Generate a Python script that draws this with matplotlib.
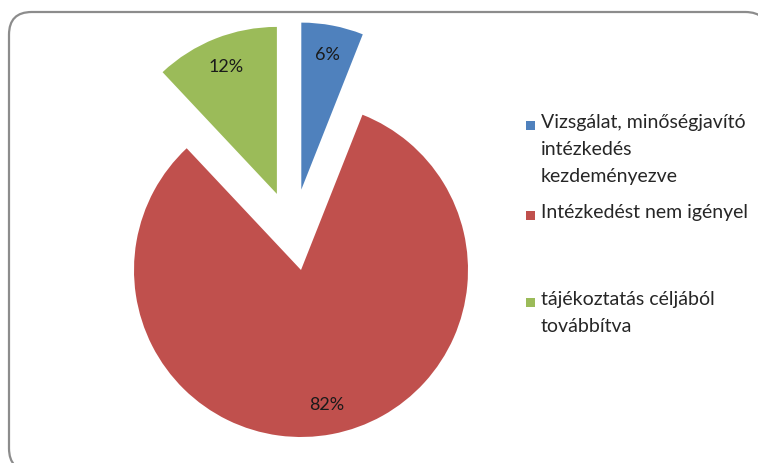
import numpy as np
import matplotlib

matplotlib.use("Agg")
import matplotlib.pyplot as plt
from matplotlib.patches import FancyBboxPatch, Rectangle

plt.rcParams["font.family"] = ["Lato", "DejaVu Sans"]

# data
labels = [
    "Vizsgálat, minőségjavító\nintézkedés\nkezdeményezve",
    "Intézkedést nem igényel",
    "tájékoztatás céljából\ntovábbítva",
]
shares = [6, 82, 12]
colors = ["#4F81BD", "#C0504D", "#9BBB59"]
explode = [0.49, 0.0, 0.49]
# small sideways nudge of the exploded slices (Excel places them a bit differently)
nudge_x = [-0.09, 0.0, 0.036]

W, H = 758, 463
fig = plt.figure(figsize=(W / 100, H / 100), dpi=100)

# chart frame (rounded, grey), runs off the right and bottom edge like the original
frame = FancyBboxPatch(
    (9 / W, -8 / H), 759 / W, 459 / H,
    boxstyle="round,pad=0,rounding_size=0.03",
    transform=fig.transFigure, facecolor="white",
    edgecolor="#8c8c8c", linewidth=1.6, mutation_aspect=W / H, zorder=-5,
)
fig.patches.append(frame)

ax = fig.add_axes([0, 0, 1, 1])
ax.set_facecolor("none")
ax.set_zorder(2)
wedges, texts, autotexts = ax.pie(
    shares,
    colors=colors,
    explode=explode,
    startangle=90,
    counterclock=False,
    radius=1.0,
    autopct="%d%%",
    pctdistance=0.82,
    textprops=dict(fontsize=13, color="#1a1a1a"),
    wedgeprops=dict(linewidth=0),
)
for w, t, dx in zip(wedges, autotexts, nudge_x):
    c = w.center
    w.set_center((c[0] + dx, c[1]))
    x, y = t.get_position()
    t.set_position((x + dx, y))

# pixel-matched limits: pie centre at (301, 270) px, radius 167 px
r_px = 167.0
cx, cy = 301.0, 270.0
ax.set_xlim(-cx / r_px, (W - cx) / r_px)
ax.set_ylim(-(H - cy) / r_px, cy / r_px)
ax.set_aspect("auto")
ax.axis("off")

# legend, first line of each entry aligned with its marker
leg_top = [125, 215, 302]
for lab, col, y in zip(labels, colors, leg_top):
    fig.patches.append(
        Rectangle((526 / W, 1 - (y + 5) / H), 9 / W, 9 / H,
                  transform=fig.transFigure, facecolor=col, edgecolor="none")
    )
    fig.text(541 / W, 1 - (y - 11) / H, lab, fontsize=14, color="#262626",
             va="top", ha="left", linespacing=1.7)

fig.savefig("out.png", dpi=100)
